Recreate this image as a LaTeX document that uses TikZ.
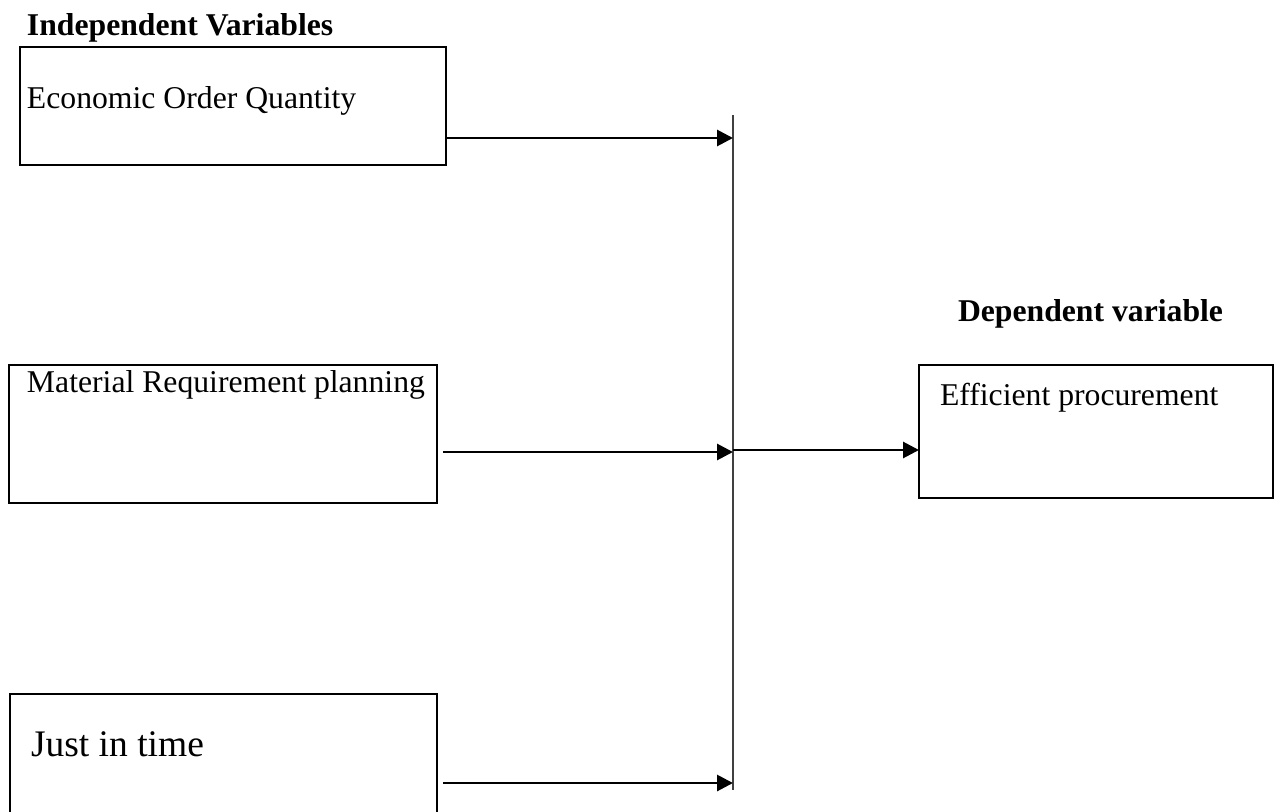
\documentclass[tikz,border=0pt]{standalone}
\usepackage{fontspec}
\setmainfont{Liberation Serif}
\usetikzlibrary{arrows.meta}
\begin{document}
\begin{tikzpicture}[x=1pt,y=-1pt,
  varbox/.style={draw=black,line width=2.2pt,rectangle,inner sep=0pt,outer sep=0pt,anchor=north west},
  lbl/.style={inner sep=0pt,outer sep=0pt,anchor=base west,font=\fontsize{31.7}{38}\selectfont},
  head/.style={lbl,font=\fontsize{31.7}{38}\selectfont\bfseries},
  big/.style={lbl,font=\fontsize{37.5}{45}\selectfont},
  link/.style={line width=2.9pt,-{Triangle[length=16pt,width=16pt]}},
  bar/.style={line width=1.3pt,draw=black!75}]
\useasboundingbox (0,0) rectangle (1274,811);
\clip (0,0) rectangle (1274,811);
% headings
\node[head] (indep) at (27,35) {Independent Variables};
\node[head] (dep) at (958,321) {Dependent variable};
% boxes
\node[varbox,minimum width=426pt,minimum height=118pt] (eoq) at (20,47) {};
\node[varbox,minimum width=428pt,minimum height=138pt] (mrp) at (9,365) {};
\node[varbox,minimum width=427pt,minimum height=140pt] (jit) at (10,694) {};
\node[varbox,minimum width=354pt,minimum height=133pt] (eff) at (919,365) {};
% box texts
\node[lbl] (eoqt) at (27,108) {Economic Order Quantity};
\node[lbl] (mrpt) at (27,392) {Material Requirement planning};
\node[big] (jitt) at (31,756) {Just in time};
\node[lbl] (efft) at (940,405) {Efficient procurement};
% vertical bar
\coordinate (bartop) at (733,115);
\coordinate (barbot) at (733,790);
\draw[bar] (bartop) -- (barbot);
% arrow start points
\coordinate (s1) at (446,138);
\coordinate (s2) at (443,452);
\coordinate (s3) at (443,783);
\draw[link] (s1) -- (s1 -| bartop);
\draw[link] (s2) -- (s2 -| bartop);
\draw[link] (s3) -- (s3 -| bartop);
\coordinate (m) at (733,450);
\draw[link] (m) -- (m -| eff.west);
\end{tikzpicture}
\end{document}
